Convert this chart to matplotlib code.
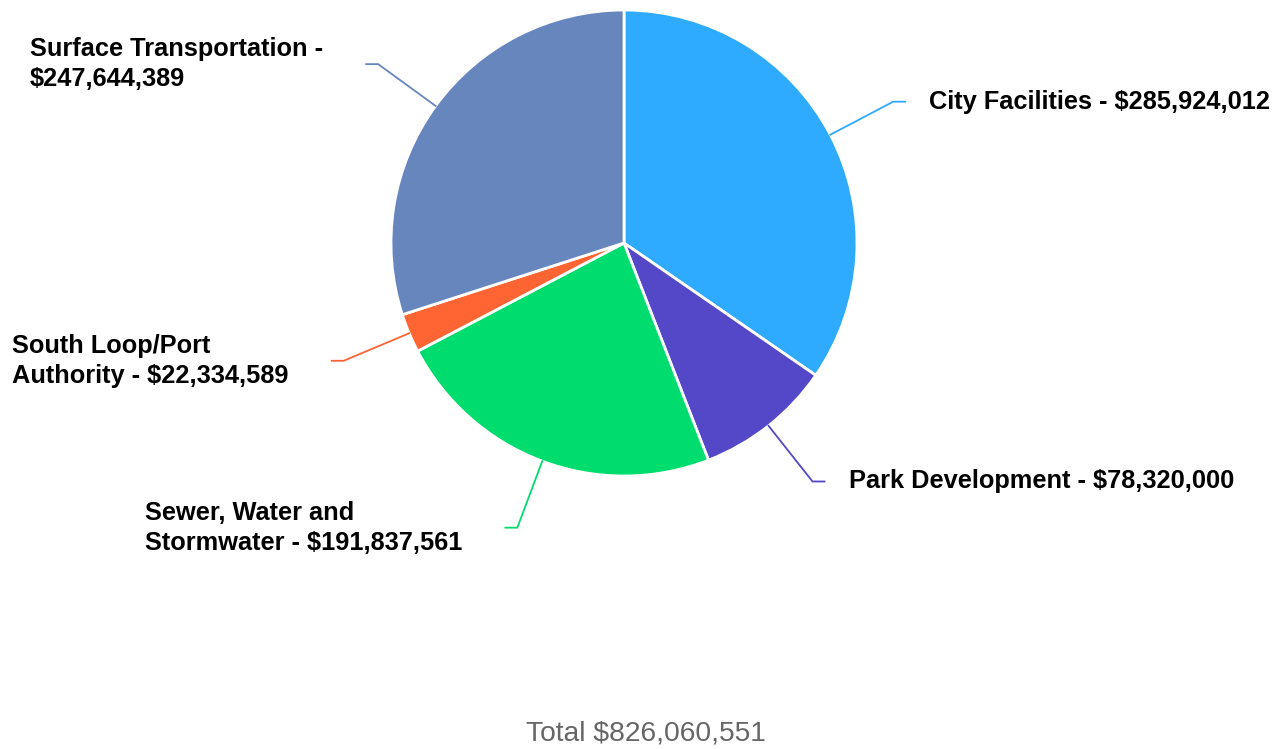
import numpy as np
import matplotlib.pyplot as plt

# Данные диаграммы
categories = ["City Facilities", "Park Development", "Sewer, Water and Stormwater",
              "South Loop/Port Authority", "Surface Transportation"]
label_lines = ["City Facilities - $285,924,012",
               "Park Development - $78,320,000",
               "Sewer, Water and\nStormwater - $191,837,561",
               "South Loop/Port\nAuthority - $22,334,589",
               "Surface Transportation -\n$247,644,389"]
values = [285924012, 78320000, 191837561, 22334589, 247644389]
colors = ["#2eaaff", "#5447c8", "#00dc6e", "#ff6433", "#6886be"]
total_label = "Total $826,060,551"

W, H = 1288, 749
fig = plt.figure(figsize=(W / 100, H / 100), dpi=100)
ax = fig.add_axes([0, 0, 1, 1])

cx, cy, r = 624, H - 243, 233
wedges, _ = ax.pie(values, colors=colors, startangle=90, counterclock=False,
                   center=(cx, cy), radius=r, frame=True,
                   wedgeprops=dict(edgecolor="white", linewidth=2, joinstyle="round"))
ax.set_xlim(0, W)
ax.set_ylim(0, H)
ax.set_aspect("equal")
ax.axis("off")

# Выноски и подписи
for w, text, col in zip(wedges, label_lines, colors):
    ang = np.deg2rad((w.theta1 + w.theta2) / 2)
    x0, y0 = cx + r * np.cos(ang), cy + r * np.sin(ang)
    x1, y1 = cx + 304 * np.cos(ang), cy + 304 * np.sin(ang)
    side = 1 if np.cos(ang) > 0 else -1
    x2 = x1 + 12 * side
    ax.plot([x0, x1, x2], [y0, y1, y1], color=col, lw=1.3, solid_joinstyle="miter")
    if side > 0:
        ax.text(x2 + 24, y1, text, ha="left", va="center", fontsize=18.3,
                fontweight="bold", family="Liberation Sans", color="black",
                linespacing=1.32)
    else:
        ax.text(x2 - 43, y1, text, ha="right", va="center",
                fontsize=18.3, fontweight="bold", family="Liberation Sans",
                color="black", multialignment="left", linespacing=1.32)

ax.text(646, H - 733, total_label, ha="center", va="center", fontsize=20.3,
        family="Liberation Sans", color="#666666")

fig.savefig("out.png", dpi=100, facecolor="white")
